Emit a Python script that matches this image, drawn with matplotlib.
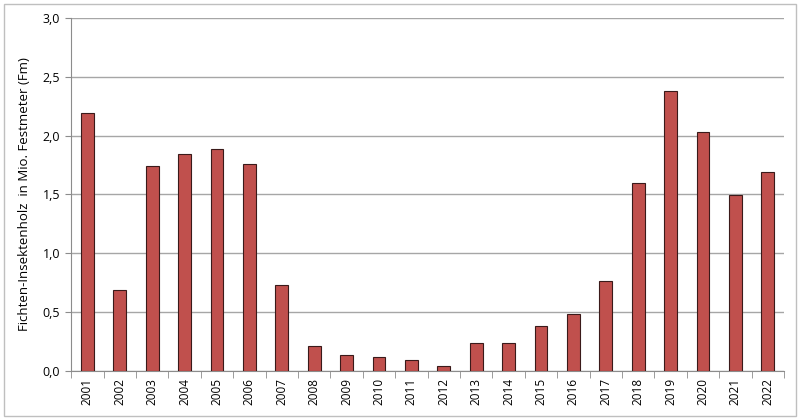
import matplotlib.pyplot as plt
from matplotlib.patches import Rectangle
import numpy as np

plt.rcParams['font.family'] = ['Open Sans', 'DejaVu Sans']

years = [str(y) for y in range(2001, 2023)]
values = [2.19, 0.69, 1.74, 1.84, 1.89, 1.76, 0.73, 0.215, 0.136, 0.116, 0.091,
          0.045, 0.24, 0.235, 0.382, 0.48, 0.767, 1.597, 2.38, 2.03, 1.495, 1.688]
yticks = [0.0, 0.5, 1.0, 1.5, 2.0, 2.5, 3.0]
ylabels = ['0,0', '0,5', '1,0', '1,5', '2,0', '2,5', '3,0']

fig = plt.figure(figsize=(8, 4.2), dpi=100)
ax = fig.add_axes([0.089, 0.117, 0.891, 0.84])

x = np.arange(len(years))
ax.bar(x, values, width=0.4, color='#C0504D', edgecolor='#3a1a1a', linewidth=0.8, zorder=3)

ax.set_xlim(-0.5, len(years) - 0.5)
ax.set_ylim(0, 3.0)
ax.set_yticks(yticks)
ax.set_yticklabels(ylabels, fontsize=9)
ax.set_xticks(x)
ax.set_xticklabels(years, rotation=90, fontsize=8.5)
ax.tick_params(axis='x', length=0, pad=5)
ax.set_xticks(np.arange(-0.5, len(years), 1), minor=True)
ax.tick_params(axis='x', which='minor', length=5, color='#8c8c8c', direction='out')
ax.tick_params(axis='y', length=4, color='#8c8c8c', direction='out', pad=4)

ax.grid(axis='y', color='#a6a6a6', linewidth=1, zorder=0)
for s in ['top', 'right']:
    ax.spines[s].set_visible(False)
ax.spines['left'].set_color('#8c8c8c')
ax.spines['bottom'].set_color('#8c8c8c')

ax.set_ylabel('Fichten-Insektenholz  in Mio. Festmeter (Fm)', fontsize=9.5, labelpad=8)

fig.patches.append(Rectangle((0.005, 0.01), 0.99, 0.98, transform=fig.transFigure,
                             fill=False, edgecolor='#bfbfbf', linewidth=1))

plt.savefig('out.png', dpi=100)
